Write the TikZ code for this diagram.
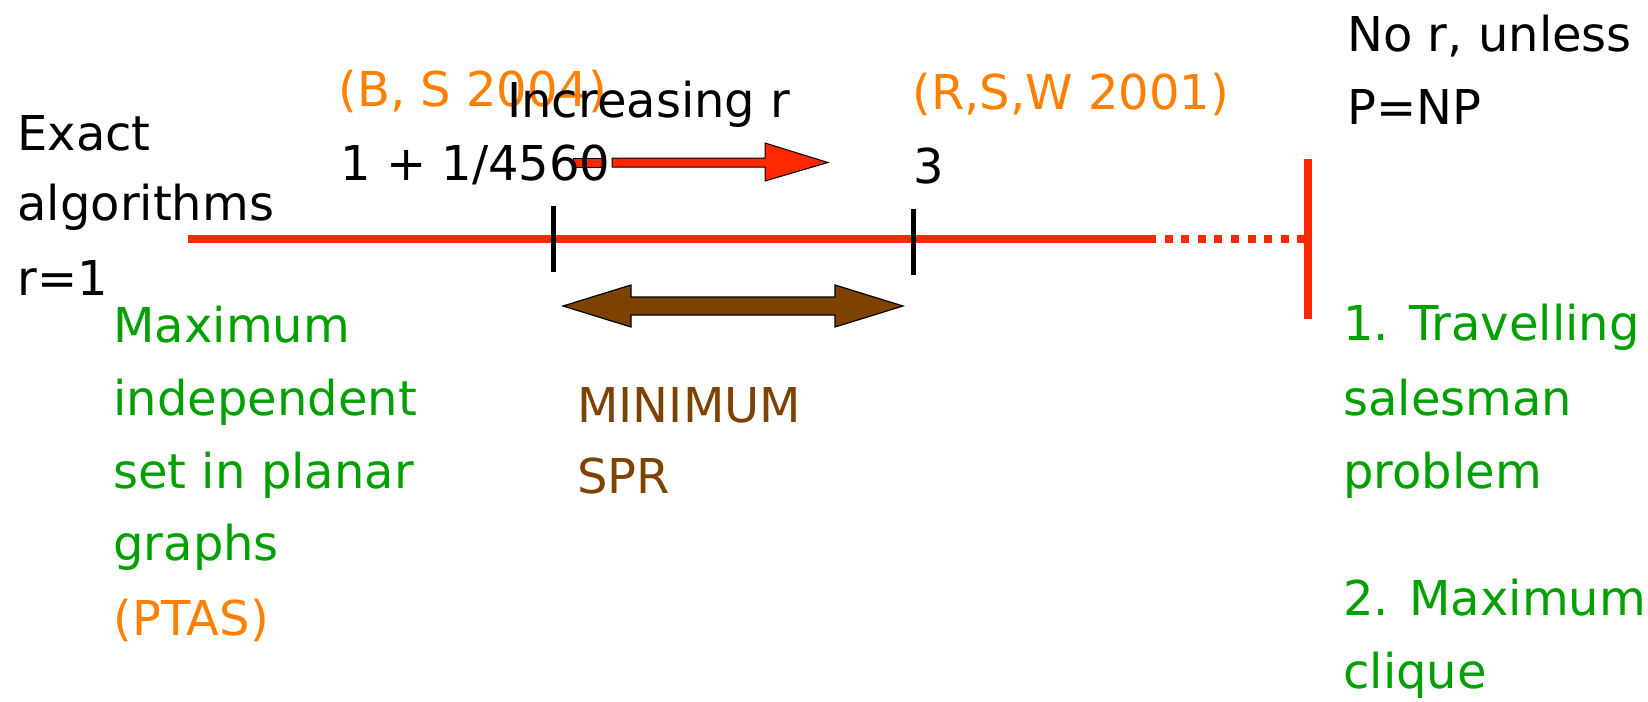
\documentclass[tikz,border=0pt]{standalone}
\usepackage{fontspec}
\setmainfont{DejaVu Sans}
\definecolor{lineRed}{RGB}{255,40,0}
\definecolor{refOrange}{RGB}{255,128,0}
\definecolor{probGreen}{RGB}{0,160,0}
\definecolor{sprBrown}{RGB}{125,66,0}
\tikzset{
  lbl/.style={inner sep=0pt, anchor=base west, font=\fontsize{24}{29}\selectfont},
  blk/.style={lbl, text=black},
  org/.style={lbl, text=refOrange},
  grn/.style={lbl, text=probGreen},
  brn/.style={lbl, text=sprBrown},
  axis/.style={draw=lineRed, line width=4pt},
  tick/.style={draw=black, line width=2.5pt},
  redarrow/.style={fill=lineRed, draw=black, line width=0.5pt},
}
\begin{document}
\begin{tikzpicture}[x=0.5pt, y=-0.5pt]
\useasboundingbox (0,0) rectangle (1648,701);

% the scale of approximation ratios
\coordinate (a0) at (188,239);
\coordinate (a1) at (1148,239);
\coordinate (a2) at (1304,239);
\coordinate (wallTop) at (1308,159);
\coordinate (wallBot) at (1308,319);
\draw[axis] (a0) -- (a1);
\draw[axis, dash pattern=on 4pt off 4.3pt] (a1) -- (a2);
\draw[axis] (wallTop) -- (wallBot);

% ticks at 1+1/4560 and 3
\coordinate (t1a) at (553,206);
\coordinate (t1b) at (553,272);
\coordinate (t2a) at (913,209);
\coordinate (t2b) at (913,275);
\draw[tick] (t1a) -- (t1b);
\draw[tick] (t2a) -- (t2b);

% "increasing r" arrow
\draw[redarrow] (573,158) rectangle (605,167);
\draw[redarrow]
  (612,158) -- (765,158) -- (765,143) -- (828,162.5) -- (765,181)
  -- (765,167) -- (612,167) -- cycle;

% double arrow spanning the known bounds
\draw[fill=sprBrown, draw=black, line width=0.6pt]
  (563,306) -- (631,285) -- (631,297) -- (835,297) -- (835,285) -- (903,306)
  -- (835,327) -- (835,315) -- (631,315) -- (631,327) -- cycle;

% left labels
\node[blk] (ex1) at (17,150) {Exact};
\node[blk] (ex2) at (17,220) {algorithms};
\node[blk] (ex3) at (17,295) {r=1};

\node[grn] (mis1) at (113,342) {Maximum};
\node[grn] (mis2) at (113,415) {independent};
\node[grn] (mis3) at (113,488) {set in planar};
\node[grn] (mis4) at (113,560) {graphs};
\node[org] (ptas) at (113,635) {(PTAS)};

% labels above the scale
\node[org] (bs) at (338,107) {(B, S 2004)};
\node[blk] (inc) at (507,118) {Increasing r};
\node[blk] (lowb) at (340,180) {1 + 1/4560};
\node[org] (rsw) at (912,110) {(R,S,W 2001)};
\node[blk] (upb) at (913,183) {3};

% middle problem
\node[brn] (spr1) at (577,422) {MINIMUM};
\node[brn] (spr2) at (577,493) {SPR};

% right labels
\node[blk] (nr1) at (1347,52) {No r, unless};
\node[blk] (nr2) at (1347,125) {P=NP};

\node[grn] (tsp1) at (1343,340) {1. Travelling};
\node[grn] (tsp2) at (1343,415) {salesman};
\node[grn] (tsp3) at (1343,488) {problem};
\node[grn] (mc1) at (1343,615) {2. Maximum};
\node[grn] (mc2) at (1343,688) {clique};
\end{tikzpicture}
\end{document}
